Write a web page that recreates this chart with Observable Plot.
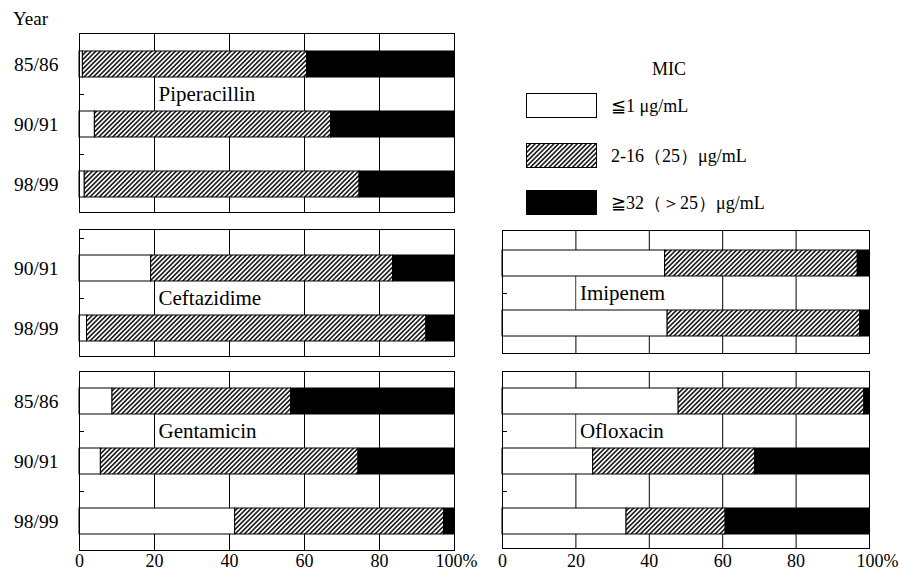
<!DOCTYPE html>
<html><head><meta charset="utf-8">
<script src="https://cdn.jsdelivr.net/npm/d3@7"></script>
<script src="https://cdn.jsdelivr.net/npm/@observablehq/plot@0.6"></script>
<style>
html,body{margin:0;padding:0;background:#fff;}
#chart{position:relative;width:899px;height:573px;overflow:hidden;font-family:"Liberation Serif",serif;background:#fff;}
#chart svg{position:absolute;}
</style></head><body><div id="chart"></div>
<script>
// ---- data ----
const micClasses = ["≦1 μg/mL", "2-16（25）μg/mL", "≧32（＞25）μg/mL"];
const gridTicks = [20, 40, 60, 80];
const xTicks = [0, 20, 40, 60, 80];
const pctTick = [100];

const piperacillinYears = ["85/86", "90/91", "98/99"];
const piperacillinLow  = [0.9, 4.1, 1.4];
const piperacillinMid  = [59.8, 63.0, 73.3];
const piperacillinHigh = [39.3, 32.9, 25.3];

const ceftazidimeYears = ["90/91", "98/99"];
const ceftazidimeLow  = [19.1, 2.0];
const ceftazidimeMid  = [64.5, 90.5];
const ceftazidimeHigh = [16.4, 7.5];

const gentamicinYears = ["85/86", "90/91", "98/99"];
const gentamicinLow  = [8.8, 5.7, 41.5];
const gentamicinMid  = [47.6, 68.7, 55.7];
const gentamicinHigh = [43.6, 25.6, 2.8];

const imipenemYears = ["90/91", "98/99"];
const imipenemLow  = [44.3, 45.0];
const imipenemMid  = [52.5, 52.5];
const imipenemHigh = [3.2, 2.5];

const ofloxacinYears = ["85/86", "90/91", "98/99"];
const ofloxacinLow  = [48.0, 24.7, 33.8];
const ofloxacinMid  = [50.6, 44.1, 27.0];
const ofloxacinHigh = [1.4, 31.2, 39.2];

// ---- styles ----
const micFills = ["white", "url(#hatch)", "black"];
const FONT = "Liberation Serif";

const chart = d3.select("#chart");

// overlay: pattern defs, "Year", legend
const ov = chart.append("svg").attr("width", 899).attr("height", 573)
  .style("left", "0px").style("top", "0px").style("z-index", 2).style("pointer-events", "none")
  .style("font-family", FONT);
const pat = ov.append("defs").append("pattern").attr("id", "hatch")
  .attr("patternUnits", "userSpaceOnUse").attr("width", 3.3).attr("height", 3.3)
  .attr("patternTransform", "rotate(45)");
pat.append("rect").attr("width", 3.3).attr("height", 3.3).attr("fill", "white");
pat.append("line").attr("x1", 1.65).attr("x2", 1.65).attr("y1", -1).attr("y2", 4.3)
  .attr("stroke", "black").attr("stroke-width", 1.45);

ov.append("text").attr("x", 13).attr("y", 25).attr("font-size", 19).text("Year");
ov.append("text").attr("x", 669).attr("y", 75).attr("font-size", 18).attr("text-anchor", "middle").text("MIC");
const legY = [93, 143, 190];
micClasses.forEach((c, i) => {
  ov.append("rect").attr("x", 526.5).attr("y", legY[i] + 0.5).attr("width", 70).attr("height", 24)
    .attr("fill", micFills[i]).attr("stroke", "black").attr("stroke-width", 1);
  ov.append("text").attr("x", 611).attr("y", legY[i] + 12.5 + 6.5).attr("font-size", 18).text(c);
});

function panel(name, yrs, low, mid, high, L) {
  const data = yrs.flatMap((y, i) => [low[i], mid[i], high[i]].map((v, j) => ({year: y, mic: micClasses[j], pct: v})));
  const rows = [];
  if (L.leadingGap) rows.push("gap0");
  yrs.forEach((y, i) => { if (i > 0) rows.push("gap" + i); rows.push(y); });
  const gaps = rows.filter(r => r.startsWith("gap"));
  const plotW = L.width - L.mL - L.mR;
  const marks = [
    Plot.ruleX(gridTicks, {stroke: "black", strokeWidth: 1}),
    Plot.tickY(gaps, {y: d => d, stroke: "black", insetRight: plotW - 5}),
    Plot.barX([name], {x1: () => gridTicks[0], x2: () => gridTicks[2], y: () => "gap1",
      fill: "white", insetLeft: 1, insetRight: 1, insetTop: -2, insetBottom: -2}),
    Plot.barX(data, Plot.stackX({x: "pct", y: "year", fill: "mic", stroke: "black", strokeWidth: 1,
      insetTop: 2, insetBottom: 2})),
    Plot.text([name], {x: () => gridTicks[0], y: () => "gap1", text: d => d, textAnchor: "start",
      dx: 4, fontSize: 21, fill: "black"}),
    Plot.frame({stroke: "black"})
  ];
  if (L.yLabels) marks.push(Plot.axisY(yrs, {tickSize: 0, tickPadding: 21, fontSize: 19.5, label: null}));
  if (L.xAxis) {
    marks.push(Plot.axisX(xTicks, {tickSize: 0, tickPadding: L.tickPad, fontSize: 18, label: null}));
    marks.push(Plot.axisX(pctTick, {tickSize: 0, tickPadding: L.tickPad, fontSize: 18, label: null,
      tickFormat: d => d + "%", dx: L.pctDx}));
  }
  const p = Plot.plot({
    width: L.width, height: L.mT + L.plotH + L.mB,
    marginLeft: L.mL, marginRight: L.mR, marginTop: L.mT, marginBottom: L.mB,
    x: {domain: [0, 100], axis: L.xAxis ? undefined : null},
    y: {domain: rows, padding: 0, insetTop: L.inT, insetBottom: L.inB, axis: L.yLabels ? undefined : null},
    color: {type: "ordinal", domain: micClasses, range: micFills},
    style: {fontFamily: FONT, fontSize: "18px", color: "black", background: "transparent", overflow: "visible"},
    marks
  });
  p.style.position = "absolute";
  p.style.left = L.left + "px";
  p.style.top = L.top + "px";
  p.style.maxWidth = "none";
  chart.node().appendChild(p);
}

panel("Piperacillin", piperacillinYears, piperacillinLow, piperacillinMid, piperacillinHigh,
  {left: 0, top: 0, width: 480, mL: 79, mR: 26, mT: 33, mB: 1, plotH: 179, inT: 16, inB: 13, yLabels: true});
panel("Ceftazidime", ceftazidimeYears, ceftazidimeLow, ceftazidimeMid, ceftazidimeHigh,
  {left: 0, top: 228, width: 480, mL: 79, mR: 26, mT: 1, mB: 1, plotH: 127, inT: -6, inB: 13, yLabels: true, leadingGap: true});
panel("Gentamicin", gentamicinYears, gentamicinLow, gentamicinMid, gentamicinHigh,
  {left: 0, top: 370, width: 480, mL: 79, mR: 26, mT: 1, mB: 22, plotH: 179, inT: 15, inB: 14, yLabels: true, xAxis: true, tickPad: 4, pctDx: 2});
panel("Imipenem", imipenemYears, imipenemLow, imipenemMid, imipenemHigh,
  {left: 480, top: 229, width: 419, mL: 22, mR: 30, mT: 1, mB: 1, plotH: 123, inT: 18, inB: 15});
panel("Ofloxacin", ofloxacinYears, ofloxacinLow, ofloxacinMid, ofloxacinHigh,
  {left: 480, top: 370, width: 419, mL: 22, mR: 30, mT: 1, mB: 24, plotH: 177, inT: 15, inB: 12, xAxis: true, tickPad: 6, pctDx: 8});
</script></body></html>
